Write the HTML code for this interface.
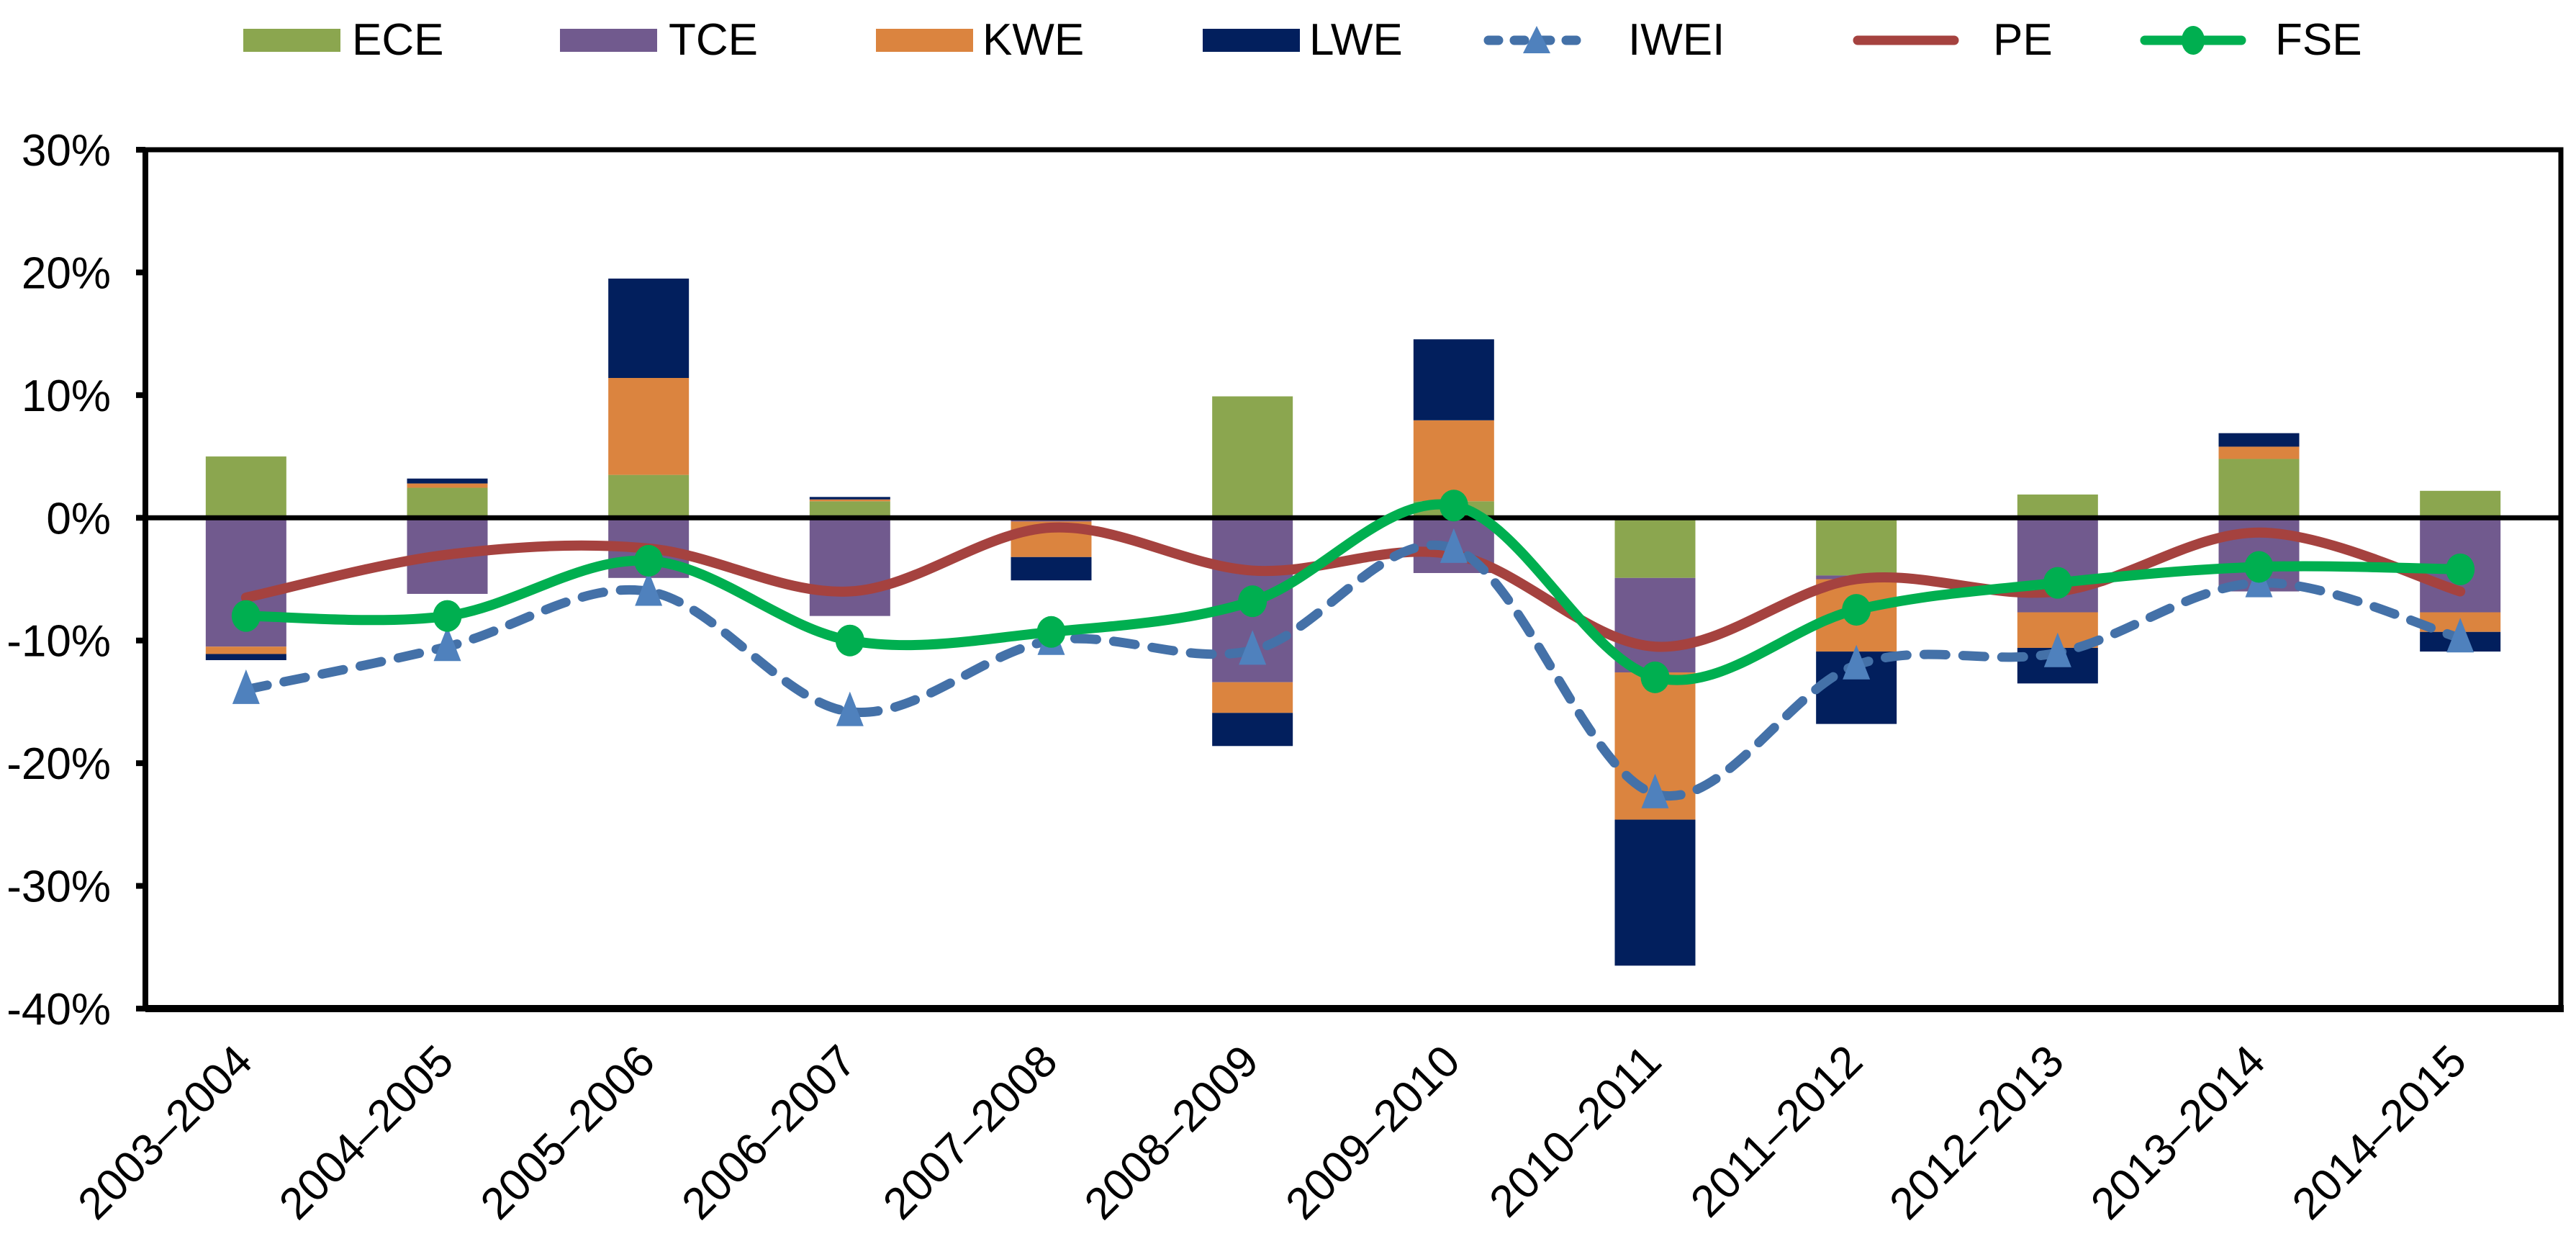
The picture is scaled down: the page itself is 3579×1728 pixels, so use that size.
<!DOCTYPE html>
<html><head><meta charset="utf-8"><style>
html,body{margin:0;padding:0;background:#fff;}
svg{display:block;font-family:"Liberation Sans Narrow","Liberation Sans",sans-serif;}
</style></head><body>
<svg id="chart" width="3579" height="1728" viewBox="0 0 3579 1728" xmlns="http://www.w3.org/2000/svg">
<g id="legend"></g>
<g id="grid"></g>
<g id="bars"></g>
<g id="lines"></g>
<g id="frame"></g>
<g id="xlabels"></g>
</svg>
<script>
const categories=["2003–2004","2004–2005","2005–2006","2006–2007","2007–2008","2008–2009","2009–2010","2010–2011","2011–2012","2012–2013","2013–2014","2014–2015"];
const ECE=[5.0,2.45,3.5,1.35,0,9.9,1.35,-4.9,-4.7,1.9,4.8,2.2];
const TCE=[-10.5,-6.2,-4.9,-8.0,-0.3,-13.4,-4.5,-7.7,-0.3,-7.7,-6.0,-7.7];
const KWE=[-0.6,0.35,7.9,0.15,-2.9,-2.5,6.6,-12.0,-5.9,-2.9,1.0,-1.6];
const LWE=[-0.5,0.4,8.1,0.2,-1.9,-2.7,6.6,-11.9,-5.9,-2.9,1.1,-1.6];
const IWEI=[-14.0,-10.5,-6.0,-15.8,-10.0,-10.8,-2.5,-22.5,-12.0,-11.0,-5.3,-9.8];
const PE=[-6.5,-3.0,-2.5,-6.0,-0.8,-4.3,-3.0,-10.5,-5.0,-6.0,-1.2,-6.0];
const FSE=[-8.0,-8.0,-3.5,-10.0,-9.3,-6.8,1.0,-13.0,-7.5,-5.3,-4.0,-4.2];
const yTicks=[30,20,10,0,-10,-20,-30,-40];

const NS="http://www.w3.org/2000/svg";
const L=202,R=3558,T=208,B=1401,yMax=30,yMin=-40;
const y=v=>T+(yMax-v)/(yMax-yMin)*(B-T);
const step=(R-L)/categories.length;
const x=i=>L+step*(i+0.5);
function mk(tag,attrs,parent){const e=document.createElementNS(NS,tag);for(const k in attrs)e.setAttribute(k,attrs[k]);parent.appendChild(e);return e;}
const G=id=>document.getElementById(id);

// y ticks
yTicks.forEach(t=>{
  const tk=mk('line',{x1:189,x2:L,y1:y(t),y2:y(t),stroke:'#000','stroke-width':8},G('grid'));
  
  
  const tx=mk('text',{x:154,y:y(t)+22,'text-anchor':'end','font-size':62},G('grid'));
  tx.textContent=t+'%';
  
  
});

// bars
const series=[["ECE",ECE,"#8BA64F"],["TCE",TCE,"#715A8E"],["KWE",KWE,"#DB843F"],["LWE",LWE,"#021F5D"]];
const bw=112;
categories.forEach((c,i)=>{
  let pos=0,neg=0;
  series.forEach(([n,arr,col])=>{
    const v=arr[i];if(!v)return;
    let a,b;
    if(v>0){a=pos;b=pos+v;pos=b;}else{a=neg;b=neg+v;neg=b;}
    const r=mk('rect',{x:x(i)-bw/2,y:Math.min(y(a),y(b)),width:bw,height:Math.abs(y(a)-y(b)),fill:col},G('bars'));
    
    
  });
});

function smooth(vals){
  const p=vals.map((v,i)=>[x(i),y(v)]);
  let d=`M${p[0][0]},${p[0][1]}`;
  for(let i=0;i<p.length-1;i++){
    const p0=p[i-1]||p[i],p1=p[i],p2=p[i+1],p3=p[i+2]||p2,t=6;
    d+=` C${p1[0]+(p2[0]-p0[0])/t},${p1[1]+(p2[1]-p0[1])/t} ${p2[0]-(p3[0]-p1[0])/t},${p2[1]-(p3[1]-p1[1])/t} ${p2[0]},${p2[1]}`;
  }
  return d;
}
// zero line
const z=mk('line',{x1:L,x2:R,y1:y(0),y2:y(0),stroke:'#000','stroke-width':7},G('lines'));



const pe=mk('path',{d:smooth(PE),fill:'none',stroke:'#A5423F','stroke-width':14,'stroke-linecap':'round'},G('lines'));


const iw=mk('path',{d:smooth(IWEI),fill:'none',stroke:'#4471A8','stroke-width':13,'stroke-dasharray':'30 24','stroke-linecap':'round'},G('lines'));


IWEI.forEach((v,i)=>{
  const m=mk('path',{d:`M${x(i)},${y(v)-28} L${x(i)+19},${y(v)+20} L${x(i)-19},${y(v)+20}Z`,fill:'#4F81BD'},G('lines'));
  
  
});
const fs=mk('path',{d:smooth(FSE),fill:'none',stroke:'#00AF50','stroke-width':14,'stroke-linecap':'round'},G('lines'));


FSE.forEach((v,i)=>{
  const m=mk('ellipse',{cx:x(i),cy:y(v),rx:20,ry:22,fill:'#00AF50'},G('lines'));
  
  
});

// frame
const fr=mk('rect',{x:L,y:T,width:R-L,height:B-T,fill:'none',stroke:'#000','stroke-width':7},G('frame'));


mk('line',{x1:L,x2:R+4,y1:B,y2:B,stroke:'#000','stroke-width':10},G('frame'));
mk('line',{x1:L,x2:L,y1:T,y2:B,stroke:'#000','stroke-width':8},G('frame'));

// x labels
categories.forEach((c,i)=>{
  const t=mk('text',{x:x(i)+12,y:1478,'text-anchor':'end','font-size':62,transform:`rotate(-45 ${x(i)+12} 1478)`},G('xlabels'));
  t.textContent=c;
  
  
});

// legend
const lg=G('legend');
const leg=[["ECE","box","#8BA64F",338,489],["TCE","box","#715A8E",778,929],["KWE","box","#DB843F",1217,1365],["LWE","box","#021F5D",1671,1819],["IWEI","dash","#4471A8",2062,2262],["PE","line","#A5423F",2575,2769],["FSE","circ","#00AF50",2974,3161]];
leg.forEach(([n,k,col,sx,tx])=>{
  if(k==="box"){const r=mk('rect',{x:sx,y:40,width:135,height:32,fill:col},lg);}
  else{
    const l=mk('line',{x1:sx+6,x2:sx+140,y1:56,y2:56,stroke:col,'stroke-width':13,'stroke-linecap':'round'},lg);
    if(k==="dash")l.setAttribute('stroke-dasharray','14 22');
    
    
    if(k==="dash")mk('path',{d:`M${sx+73},${36} L${sx+92},${74} L${sx+54},${74}Z`,fill:'#4F81BD'},lg);
    if(k==="circ")mk('ellipse',{cx:sx+73,cy:56,rx:16,ry:20,fill:col},lg);
  }
  const t=mk('text',{x:tx,y:76,'font-size':62},lg);
  t.textContent=n;
  
  
});
</script>
</body></html>
